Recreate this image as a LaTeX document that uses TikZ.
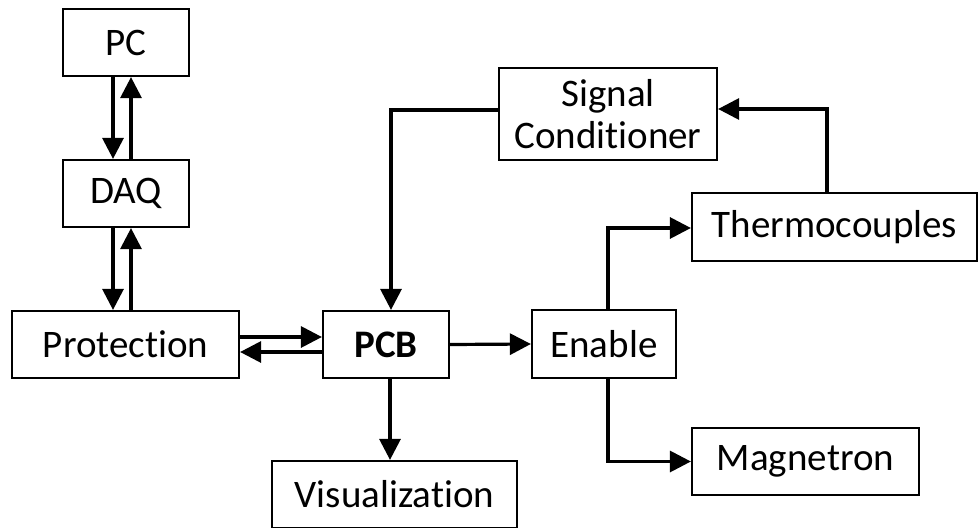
\documentclass[tikz,border=0pt]{standalone}
\usepackage{fontspec}
\setmainfont{Carlito}[Ligatures=NoCommon]
\usetikzlibrary{arrows.meta,calc,positioning}

\tikzset{
  blk/.style={draw=black, line width=2.2pt, rectangle, minimum height=67pt,
    inner sep=0pt, align=center, font=\fontsize{39}{47}\selectfont},
  arr/.style={line width=3.2pt, -{Triangle[length=21pt,width=21pt]}},
  wire/.style={line width=3.2pt}
}

\begin{document}
\begin{tikzpicture}[x=1pt, y=-1pt]
  \useasboundingbox (0,0) rectangle (979,527);

  % blocks
  \node[blk, minimum width=126pt] (pc)   at (126,42.5)  {PC};
  \node[blk, minimum width=126pt] (daq)  at (126,193.5) {DAQ};
  \node[blk, minimum width=227pt] (prot) at (125.5,344.5) {Protection};
  \node[blk, minimum width=126pt] (pcb)  at (386,344.5) {\textbf{PCB}};
  \node[blk, minimum width=218pt, minimum height=92pt] (sig) at (608,114) {Signal\\[-5pt]Conditioner};
  \node[blk, minimum width=285pt, minimum height=68pt] (thermo) at (834.5,227) {Thermocouples};
  \node[blk, minimum width=144pt, minimum height=68pt] (en) at (604,344) {Enable};
  \node[blk, minimum width=227pt] (mag) at (805.5,461.5) {Magnetron};
  \node[blk, minimum width=245pt] (vis) at (394.5,494.5) {Visualization};

  % PC <-> DAQ
  \draw[arr] ($(pc.south)+(-13,0)$) -- ($(daq.north)+(-13,0)$);
  \draw[arr] ($(daq.north)+(5,0)$) -- ($(pc.south)+(5,0)$);

  % DAQ <-> Protection
  \draw[arr] ($(daq.south)+(-13,0)$) -- ($(prot.north)+(-12.5,0)$);
  \draw[arr] ($(prot.north)+(5.5,0)$) -- ($(daq.south)+(5,0)$);

  % Protection <-> PCB
  \draw[arr] ($(prot.east)+(0,-7.5)$) -- ($(pcb.west)+(0,-7.5)$);
  \draw[arr] ($(pcb.west)+(0,7.5)$) -- ($(prot.east)+(0,7.5)$);

  % PCB -> Enable, PCB -> Visualization
  \draw[arr] (pcb.east) -- (en.west);
  \draw[arr] ($(pcb.south)+(4,0)$) -- ($(vis.north)+(-4.5,0)$);

  % Signal Conditioner -> PCB
  \coordinate (sigout) at ($(sig.west)+(0,-4)$);
  \draw[arr] (sigout) -| ($(pcb.north)+(5,0)$);

  % Enable -> Thermocouples, Enable -> Magnetron
  \coordinate (enup) at ($(en.north)+(4,0)$);
  \coordinate (endn) at ($(en.south)+(4,0)$);
  \draw[arr] (enup) |- ($(thermo.west)+(0,1)$);
  \draw[arr] (endn) |- (mag.west);

  % Thermocouples -> Signal Conditioner
  \coordinate (thup) at ($(thermo.north)+(-7.5,0)$);
  \draw[arr] (thup) |- ($(sig.east)+(0,-5)$);
\end{tikzpicture}
\end{document}
